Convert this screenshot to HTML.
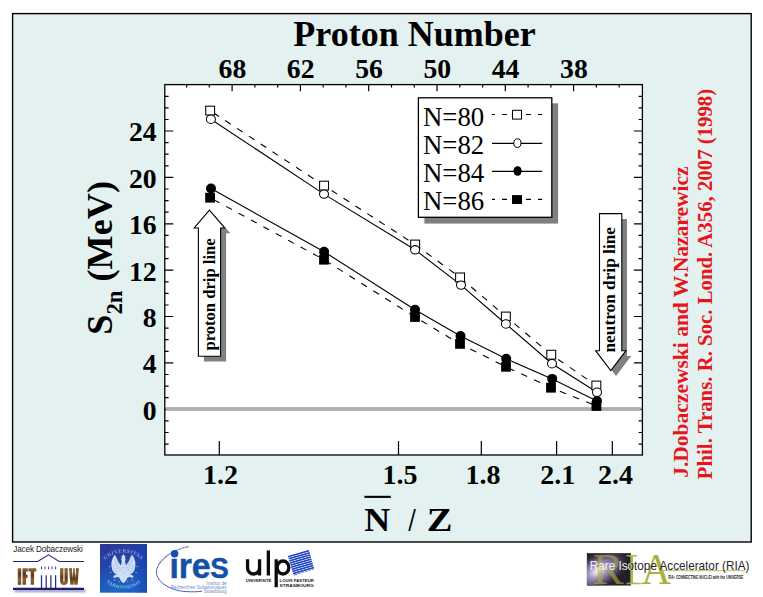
<!DOCTYPE html>
<html><head><meta charset="utf-8"><title>S2n slide</title>
<style>
html,body{margin:0;padding:0;background:#fff;}
body{width:763px;height:597px;overflow:hidden;font-family:"Liberation Sans",sans-serif;}
svg{display:block;position:absolute;left:0;top:0;}
text{font-family:"Liberation Serif",serif;}
.sans{font-family:"Liberation Sans",sans-serif;}
</style></head><body>
<svg width="763" height="597" viewBox="0 0 763 597">
<rect x="12.6" y="13.6" width="738.6" height="528.4" fill="#e3f1f0" stroke="#000" stroke-width="1.4"/>
<rect x="164.8" y="84.6" width="477.59999999999997" height="370.4" fill="#fff" stroke="none"/>
<path d="M164.8 444.1h3.8 M642.4 444.1h-3.8 M164.8 432.5h3.8 M642.4 432.5h-3.8 M164.8 420.9h3.8 M642.4 420.9h-3.8 M164.8 409.3h8.5 M642.4 409.3h-8.5 M164.8 397.7h3.8 M642.4 397.7h-3.8 M164.8 386.1h3.8 M642.4 386.1h-3.8 M164.8 374.5h3.8 M642.4 374.5h-3.8 M164.8 362.9h8.5 M642.4 362.9h-8.5 M164.8 351.3h3.8 M642.4 351.3h-3.8 M164.8 339.7h3.8 M642.4 339.7h-3.8 M164.8 328.1h3.8 M642.4 328.1h-3.8 M164.8 316.5h8.5 M642.4 316.5h-8.5 M164.8 305.0h3.8 M642.4 305.0h-3.8 M164.8 293.4h3.8 M642.4 293.4h-3.8 M164.8 281.8h3.8 M642.4 281.8h-3.8 M164.8 270.2h8.5 M642.4 270.2h-8.5 M164.8 258.6h3.8 M642.4 258.6h-3.8 M164.8 247.0h3.8 M642.4 247.0h-3.8 M164.8 235.4h3.8 M642.4 235.4h-3.8 M164.8 223.8h8.5 M642.4 223.8h-8.5 M164.8 212.2h3.8 M642.4 212.2h-3.8 M164.8 200.6h3.8 M642.4 200.6h-3.8 M164.8 189.0h3.8 M642.4 189.0h-3.8 M164.8 177.4h8.5 M642.4 177.4h-8.5 M164.8 165.8h3.8 M642.4 165.8h-3.8 M164.8 154.2h3.8 M642.4 154.2h-3.8 M164.8 142.6h3.8 M642.4 142.6h-3.8 M164.8 131.0h8.5 M642.4 131.0h-8.5 M164.8 119.5h3.8 M642.4 119.5h-3.8 M164.8 107.9h3.8 M642.4 107.9h-3.8 M164.8 96.3h3.8 M642.4 96.3h-3.8 M186.6 84.6v2.8 M209.3 84.6v2.8 M232.1 84.6v6.6 M254.9 84.6v2.8 M277.6 84.6v2.8 M300.4 84.6v6.6 M323.2 84.6v2.8 M345.9 84.6v2.8 M368.7 84.6v6.6 M391.5 84.6v2.8 M414.3 84.6v2.8 M437.0 84.6v6.6 M459.8 84.6v2.8 M482.6 84.6v2.8 M505.3 84.6v6.6 M528.1 84.6v2.8 M550.9 84.6v2.8 M573.6 84.6v6.6 M596.4 84.6v2.8 M619.2 84.6v2.8 M219.3 455.0v-14 M398.5 455.0v-14 M481.3 455.0v-14 M556.6 455.0v-14 M612.3 455.0v-14" stroke="#000" stroke-width="1.2" fill="none"/>
<rect x="164.8" y="84.6" width="477.59999999999997" height="370.4" fill="none" stroke="#000" stroke-width="1.3"/>
<rect x="166.0" y="407.1" width="474.9" height="3.8" fill="#adadad"/>
<path d="M210.1 110.6 L324.0 185.6 L415.1 244.5 L460 277.4 L505.9 316.5 L551.2 354.7 L596.4 385.5" stroke="#000" stroke-width="1.1" fill="none" stroke-dasharray="6.6 7.55" stroke-dashoffset="-4"/>
<path d="M210.1 197.7 L324 259.7 L415 317 L460 343.9 L506 366.8 L551 387.7 L596.4 406" stroke="#000" stroke-width="1.1" fill="none" stroke-dasharray="6.6 7.55" stroke-dashoffset="-4"/>
<path d="M210.9 119.2 L324 194.1 L415.1 249.8 L461 285.1 L505.9 324 L552 363.7 L597 392.3" stroke="#000" stroke-width="1.1" fill="none"/>
<path d="M211 188.5 L324.1 251.7 L415 309.8 L460.5 336 L506.2 358.8 L552.2 378.9 L597 401" stroke="#000" stroke-width="1.1" fill="none"/>
<rect x="205.2" y="192.8" width="9.8" height="9.8" fill="#000"/>
<rect x="319.1" y="254.8" width="9.8" height="9.8" fill="#000"/>
<rect x="410.1" y="312.1" width="9.8" height="9.8" fill="#000"/>
<rect x="455.1" y="339.0" width="9.8" height="9.8" fill="#000"/>
<rect x="501.1" y="361.9" width="9.8" height="9.8" fill="#000"/>
<rect x="546.1" y="382.8" width="9.8" height="9.8" fill="#000"/>
<rect x="591.5" y="401.1" width="9.8" height="9.8" fill="#000"/>
<circle cx="211" cy="188.5" r="5" fill="#000"/>
<circle cx="324.1" cy="251.7" r="5" fill="#000"/>
<circle cx="415" cy="309.8" r="5" fill="#000"/>
<circle cx="460.5" cy="336" r="5" fill="#000"/>
<circle cx="506.2" cy="358.8" r="5" fill="#000"/>
<circle cx="552.2" cy="378.9" r="5" fill="#000"/>
<circle cx="597" cy="401" r="5" fill="#000"/>
<rect x="205.7" y="106.2" width="8.9" height="8.8" fill="#fff" stroke="#000" stroke-width="1.05"/>
<rect x="319.6" y="181.2" width="8.9" height="8.8" fill="#fff" stroke="#000" stroke-width="1.05"/>
<rect x="410.7" y="240.1" width="8.9" height="8.8" fill="#fff" stroke="#000" stroke-width="1.05"/>
<rect x="455.6" y="273.0" width="8.9" height="8.8" fill="#fff" stroke="#000" stroke-width="1.05"/>
<rect x="501.4" y="312.1" width="8.9" height="8.8" fill="#fff" stroke="#000" stroke-width="1.05"/>
<rect x="546.8" y="350.3" width="8.9" height="8.8" fill="#fff" stroke="#000" stroke-width="1.05"/>
<rect x="591.9" y="381.1" width="8.9" height="8.8" fill="#fff" stroke="#000" stroke-width="1.05"/>
<ellipse cx="210.9" cy="119.2" rx="4.5" ry="4.2" fill="#fff" stroke="#000" stroke-width="1.05"/>
<ellipse cx="324" cy="194.1" rx="4.5" ry="4.2" fill="#fff" stroke="#000" stroke-width="1.05"/>
<ellipse cx="415.1" cy="249.8" rx="4.5" ry="4.2" fill="#fff" stroke="#000" stroke-width="1.05"/>
<ellipse cx="461" cy="285.1" rx="4.5" ry="4.2" fill="#fff" stroke="#000" stroke-width="1.05"/>
<ellipse cx="505.9" cy="324" rx="4.5" ry="4.2" fill="#fff" stroke="#000" stroke-width="1.05"/>
<ellipse cx="552" cy="363.7" rx="4.5" ry="4.2" fill="#fff" stroke="#000" stroke-width="1.05"/>
<ellipse cx="597" cy="392.3" rx="4.5" ry="4.2" fill="#fff" stroke="#000" stroke-width="1.05"/>
<path d="M214.9 215.39999999999998 L230.2 233.2 H226.1 V361.5 H203.9 V233.2 H199.7 Z" fill="#808080"/>
<path d="M209.4 210.2 L224.7 228 H220.6 V356.3 H198.4 V228 H194.2 Z" fill="#fff" stroke="#000" stroke-width="1.1" stroke-linejoin="miter"/>
<path d="M604.7 218.9 H627.0 V356.0 H631.2 L616.0 375.90000000000003 L600.8000000000001 356.0 H604.7 Z" fill="#808080"/>
<path d="M599.5 213.6 H621.8 V350.7 H626 L610.8 370.6 L595.6 350.7 H599.5 Z" fill="#fff" stroke="#000" stroke-width="1.1" stroke-linejoin="miter"/>
<text transform="translate(214.6,350.6) rotate(-90)" font-family="Liberation Serif" font-weight="bold" font-size="16.6">proton drip line</text>
<text transform="translate(614.8,352.5) rotate(-90)" font-family="Liberation Serif" font-weight="bold" font-size="17.3">neutron drip line</text>
<rect x="424.4" y="103.3" width="133.7" height="120.3" fill="#808080"/>
<rect x="418.4" y="97.8" width="133.4" height="119.5" fill="#fff" stroke="#000" stroke-width="1.3"/>
<text x="423.0" y="126.3" font-family="Liberation Serif" font-size="26.8">N=80</text>
<path d="M492 114.5H542.2" stroke="#000" stroke-width="1.1" stroke-dasharray="5 7" stroke-dashoffset="2"/>
<text x="423.0" y="153.7" font-family="Liberation Serif" font-size="26.8">N=82</text>
<path d="M492 143.4H542.2" stroke="#000" stroke-width="1.1"/>
<text x="423.0" y="181.9" font-family="Liberation Serif" font-size="26.8">N=84</text>
<path d="M492 171.4H542.2" stroke="#000" stroke-width="1.1"/>
<text x="423.0" y="209.5" font-family="Liberation Serif" font-size="26.8">N=86</text>
<path d="M492 199.4H542.2" stroke="#000" stroke-width="1.1" stroke-dasharray="5 7" stroke-dashoffset="2"/>
<rect x="512.5" y="110.3" width="9" height="8.8" fill="#fff" stroke="#000" stroke-width="1"/>
<ellipse cx="517.4" cy="143.1" rx="3.6" ry="4.3" fill="#fff" stroke="#000" stroke-width="1"/>
<ellipse cx="517.6" cy="171" rx="4.1" ry="4.8" fill="#000"/>
<rect x="512" y="195.1" width="10" height="8.9" fill="#000"/>
<text x="414.5" y="46.4" text-anchor="middle" font-family="Liberation Serif" font-weight="bold" font-size="36">Proton Number</text>
<text x="232.4" y="78.2" text-anchor="middle" font-family="Liberation Serif" font-weight="bold" font-size="27.7">68</text>
<text x="300.7" y="78.2" text-anchor="middle" font-family="Liberation Serif" font-weight="bold" font-size="27.7">62</text>
<text x="369.0" y="78.2" text-anchor="middle" font-family="Liberation Serif" font-weight="bold" font-size="27.7">56</text>
<text x="437.3" y="78.2" text-anchor="middle" font-family="Liberation Serif" font-weight="bold" font-size="27.7">50</text>
<text x="505.6" y="78.2" text-anchor="middle" font-family="Liberation Serif" font-weight="bold" font-size="27.7">44</text>
<text x="573.9" y="78.2" text-anchor="middle" font-family="Liberation Serif" font-weight="bold" font-size="27.7">38</text>
<text x="156.6" y="141.3" text-anchor="end" font-family="Liberation Serif" font-weight="bold" font-size="27.7">24</text>
<text x="156.6" y="187.7" text-anchor="end" font-family="Liberation Serif" font-weight="bold" font-size="27.7">20</text>
<text x="156.6" y="234.1" text-anchor="end" font-family="Liberation Serif" font-weight="bold" font-size="27.7">16</text>
<text x="156.6" y="280.5" text-anchor="end" font-family="Liberation Serif" font-weight="bold" font-size="27.7">12</text>
<text x="156.6" y="326.8" text-anchor="end" font-family="Liberation Serif" font-weight="bold" font-size="27.7">8</text>
<text x="156.6" y="373.2" text-anchor="end" font-family="Liberation Serif" font-weight="bold" font-size="27.7">4</text>
<text x="156.6" y="420.2" text-anchor="end" font-family="Liberation Serif" font-weight="bold" font-size="27.7">0</text>
<text x="220.5" y="483.6" text-anchor="middle" font-family="Liberation Serif" font-weight="bold" font-size="28">1.2</text>
<text x="400" y="483.6" text-anchor="middle" font-family="Liberation Serif" font-weight="bold" font-size="28">1.5</text>
<text x="483" y="483.6" text-anchor="middle" font-family="Liberation Serif" font-weight="bold" font-size="28">1.8</text>
<text x="557.7" y="483.6" text-anchor="middle" font-family="Liberation Serif" font-weight="bold" font-size="28">2.1</text>
<text x="615.6" y="483.6" text-anchor="middle" font-family="Liberation Serif" font-weight="bold" font-size="28">2.4</text>
<text transform="translate(364.2,531.2) scale(1.045,1)" font-family="Liberation Serif" font-weight="bold" font-size="34.4">N</text>
<text transform="translate(412,531.2) scale(0.74,1)" text-anchor="middle" font-family="Liberation Serif" font-weight="bold" font-size="34.4">/</text>
<text transform="translate(426.8,531.2) scale(1.12,1)" font-family="Liberation Serif" font-weight="bold" font-size="34.4">Z</text>
<rect x="364.4" y="495.8" width="26.4" height="2.1" fill="#000"/>
<text transform="translate(112.3,334.7) rotate(-90)" font-family="Liberation Serif" font-weight="bold" font-size="36.2" xml:space="preserve">S<tspan font-size="22.8" dy="10">2n</tspan><tspan dy="-10"> (MeV)</tspan></text>
<text transform="translate(688.3,477.8) rotate(-90)" font-family="Liberation Serif" font-weight="bold" font-size="21.5" fill="#e8141a">J.Dobaczewski and W.Nazarewicz</text>
<text transform="translate(712.2,479.2) rotate(-90)" font-family="Liberation Serif" font-weight="bold" font-size="20.8" fill="#e8141a">Phil. Trans. R. Soc. Lond. A356, 2007 (1998)</text>
<defs>
<linearGradient id="wood" x1="0" y1="0" x2="1" y2="0.08" gradientUnits="userSpaceOnUse" spreadMethod="repeat">
<stop offset="0" stop-color="#5e3a1c"/><stop offset="0.5" stop-color="#8e6436"/><stop offset="1" stop-color="#5e3a1c"/>
</linearGradient>
<linearGradient id="uwbg" x1="0" y1="0" x2="0.25" y2="1">
<stop offset="0" stop-color="#2f3496"/><stop offset="0.45" stop-color="#2545aa"/><stop offset="1" stop-color="#1b66c2"/>
</linearGradient>
<linearGradient id="uwbg2" x1="0" y1="0" x2="1" y2="0"><stop offset="0" stop-color="#2040c0" stop-opacity="0"/><stop offset="0.6" stop-color="#2040c0" stop-opacity="0"/><stop offset="1" stop-color="#1838a8" stop-opacity="0.55"/></linearGradient>
<radialGradient id="riaglow" gradientUnits="userSpaceOnUse" cx="598" cy="571" r="34" gradientTransform="rotate(-28 598 571) translate(598 571) scale(1 0.55) translate(-598 -571)">
<stop offset="0" stop-color="#f6f2fa"/><stop offset="0.12" stop-color="#e0d6ea"/><stop offset="0.3" stop-color="#a898c2"/><stop offset="0.62" stop-color="#625478"/><stop offset="1" stop-color="#222026" stop-opacity="0.2"/>
</radialGradient>
<pattern id="stripes" width="20" height="2.2" patternUnits="userSpaceOnUse">
<rect width="20" height="2.2" fill="#dfe6fa"/><rect width="20" height="1.5" fill="#2246c2"/>
</pattern>
<path id="arcTop" d="M102.4 563.6 A25.5 25.5 0 0 1 144.4 563.6"/>
<path id="arcBot" d="M102.4 578.4 A26.6 26.6 0 0 0 144.4 578.4"/>
<filter id="soft03" x="-10%" y="-10%" width="120%" height="120%"><feGaussianBlur stdDeviation="0.3"/></filter>
<filter id="soft" x="-20%" y="-20%" width="140%" height="140%"><feGaussianBlur stdDeviation="0.45"/></filter>
<filter id="soft2" filterUnits="userSpaceOnUse" x="8" y="584" width="84" height="13"><feGaussianBlur stdDeviation="0.8"/></filter>
</defs>

<!-- Jacek Dobaczewski -->
<text class="sans" x="13.2" y="551.8" font-family="Liberation Sans" font-size="8.2" fill="#1a1a1a" textLength="69.6" lengthAdjust="spacing" style="font-family:'Liberation Sans',sans-serif">Jacek Dobaczewski</text>

<!-- IFT UW -->
<g>
<rect x="14.5" y="589.6" width="71" height="2.4" fill="#8c8cb4" filter="url(#soft2)"/>
<path d="M13 561.5H37.7L48.5 554.9L59.2 561.5H84" fill="none" stroke="#23237a" stroke-width="1.05"/>
<path d="M41.5 575.2V588M46.2 575.2V588M50.9 575.2V588M55.6 575.2V588" stroke="#2a2a8c" stroke-width="1.25"/>
<path d="M41.5 566.5v2.8M45 566.5v2.8M48.6 566.5v2.8M52.1 566.5v2.8M55.6 566.5v2.8" stroke="#2a2a8c" stroke-width="0.9"/>
<path d="M13 588.9H84" stroke="#1c1c78" stroke-width="2.2"/>
<g fill="url(#wood)" filter="url(#soft03)">
<rect x="17.8" y="568.3" width="3.4" height="16.5"/>
<path d="M22.5 568.3H27.9V571.6H26V574.8H27.5V577.9H26V584.8H22.5Z"/>
<path d="M28.4 568.3H36.3V571.6H34.1V584.8H30.7V571.6H28.4Z"/>
<path d="M60.1 568.3H63.4V581.2Q63.95 582.2 64.5 581.2V568.3H67.8V582Q67.4 584.9 63.95 584.9Q60.5 584.9 60.1 582Z"/>
<path d="M69 568.3H71.9L72.6 578.6L73.3 568.3H74.7L75.4 578.6L76.1 568.3H78.9L77.6 584.8H74.3L74 579.5L73.7 584.8H70.3Z"/>
</g>
</g>

<!-- UW emblem -->
<g>
<rect x="100" y="544" width="47" height="48.7" fill="url(#uwbg)"/>
<rect x="100" y="544" width="47" height="48.7" fill="url(#uwbg2)"/>
<g filter="url(#soft)">
<text style="font-family:'Liberation Serif',serif" font-weight="bold" font-size="5.4" fill="#8c9ce0" letter-spacing="0.3"><textPath href="#arcTop" startOffset="50%" text-anchor="middle">UNIVERSITAS</textPath></text>
<text style="font-family:'Liberation Serif',serif" font-weight="bold" font-size="4.8" fill="#86bcf0" letter-spacing="0.15"><textPath href="#arcBot" startOffset="50%" text-anchor="middle">VARSOVIENSIS</textPath></text>
<g fill="#d0def4">
<path d="M123.4 553.6 L124 555.4 L125.4 556 L125 557.8 L125.6 559.6 L125 561.2 L126 565.4 Q128.4 562.6 129.8 559 Q130.8 556.4 132 554.8 Q134.6 557.8 135.3 562 Q136 566.8 134.4 570.2 Q133 573 130.2 574.6 L133.6 576 L132.8 578 L129.8 577 L127.6 577.6 Q126.8 580.8 123.4 583.2 Q120 580.8 119.2 577.6 L117 577 L114 578 L113.2 576 L116.6 574.6 Q113.8 573 112.4 570.2 Q110.8 566.8 111.5 562 Q112.2 557.8 114.8 554.8 Q116 556.4 117 559 Q118.4 562.6 120.8 565.4 L121.8 561.2 L121.2 559.6 L121.8 557.8 L121.4 556 L122.8 555.4 Z"/>
</g>
<g stroke="#8fb0e4" stroke-width="0.55" fill="none" opacity="0.9">
<path d="M114.8 559 Q115.6 566 119.4 571.6 M117 560.6 Q118 566 121 570.4 M113 564.6 Q114.6 570 118 573.6"/>
<path d="M132 559 Q131.2 566 127.4 571.6 M129.8 560.6 Q128.8 566 125.8 570.4 M133.8 564.6 Q132.2 570 128.8 573.6"/>
<path d="M121.8 563.6 Q123.4 565.2 125 563.6 M121.4 567.6 H125.4 M122 572.6 Q123.4 574 124.8 572.6"/>
</g>
<g fill="#9cc4f0">
<circle cx="109.6" cy="566.6" r="0.7"/><circle cx="137.2" cy="566.6" r="0.7"/><circle cx="110.6" cy="572.6" r="0.7"/><circle cx="136.2" cy="572.6" r="0.7"/>
<circle cx="114.6" cy="580" r="0.7"/><circle cx="132.2" cy="580" r="0.7"/><circle cx="119" cy="581.6" r="0.6"/><circle cx="127.8" cy="581.6" r="0.6"/>
</g>
</g>
</g>

<!-- IReS -->
<g>
<path d="M189 546.6 C176 548.5 160 558 156.6 569.5 C154.5 580 168 590.5 186 591.6 C193 592 198 591.8 202 591.2" fill="none" stroke="#3050b0" stroke-width="0.9"/>
<path d="M189 546.6 C176 548.5 163 556 158.5 564" fill="none" stroke="#b8a8d8" stroke-width="1"/>
<g transform="translate(169.6,577.5) scale(0.94,1)">
<text style="font-family:'Liberation Sans',sans-serif" font-weight="bold" font-size="36" fill="#1450a8" stroke="#1450a8" stroke-width="0.5" letter-spacing="-0.2">ire<tspan font-size="29.5" dx="-0.2">S</tspan></text>
</g>
<circle cx="174.6" cy="553.7" r="3.7" fill="#1450a8"/>
<text style="font-family:'Liberation Sans',sans-serif" font-size="4.7" fill="#6f8cc8" text-anchor="end" x="226.7" y="584.6">Institut de</text>
<text style="font-family:'Liberation Sans',sans-serif" font-size="4.7" fill="#6f8cc8" text-anchor="end" x="226.7" y="588.7">Recherches Subatomiques</text>
<text style="font-family:'Liberation Sans',sans-serif" font-size="4.7" fill="#6f8cc8" text-anchor="end" x="226.7" y="592.7">Strasbourg</text>
</g>

<!-- ULP -->
<g>
<polygon points="288.1,555.9 308.7,550 313.8,568.3 294,575.4" fill="#2448c4"/>
<g transform="translate(288.1,555.9) rotate(-16)"><rect x="0" y="0" width="21.4" height="20" fill="url(#stripes)"/></g>
<g fill="none" stroke="#0c0c0c" stroke-width="3.3">
<path d="M247.55 559.3V568A6 6 0 0 0 259.55 568V559.3M259.55 566V575.5"/>
<path d="M268.35 550.4V575.5"/>
<path d="M276.2 559.3V587.2"/>
<ellipse cx="283" cy="567.5" rx="5.85" ry="6.5"/>
</g>
<text style="font-family:'Liberation Sans',sans-serif" font-weight="bold" font-size="4.2" x="245.8" y="582" fill="#222" textLength="25.6" lengthAdjust="spacingAndGlyphs">UNIVERSITÉ</text>
<text style="font-family:'Liberation Sans',sans-serif" font-weight="bold" font-size="4.2" x="279.6" y="582" fill="#222" textLength="34.2" lengthAdjust="spacingAndGlyphs">LOUIS PASTEUR</text>
<text style="font-family:'Liberation Sans',sans-serif" font-weight="bold" font-size="4.2" x="279.6" y="587.3" fill="#222" textLength="34.2" lengthAdjust="spacingAndGlyphs">STRASBOURG</text>
</g>

<!-- RIA -->
<g>
<clipPath id="inbox"><rect x="586.9" y="553.2" width="43.9" height="32.3"/></clipPath>
<clipPath id="outbox"><rect x="630.8" y="540" width="132" height="57"/></clipPath>
<rect x="586.9" y="553.2" width="43.9" height="32.3" fill="#222026"/>
<rect x="586.9" y="553.2" width="43.9" height="32.3" fill="url(#riaglow)"/>
<g fill="#a9b03e" style="font-family:'Liberation Serif',serif" font-size="44.5">
<text x="592.4" y="584.2" textLength="31.2" lengthAdjust="spacingAndGlyphs" fill-opacity="0.62">R</text>
<path d="M626.4 555H637V556.2L633 556.9V582.4L641.6 583V584.2H626.4V583L630.4 582.4V556.9L626.4 556.2Z" fill-opacity="0.9"/>
<text x="641.4" y="584.2" textLength="29.4" lengthAdjust="spacingAndGlyphs">A</text>
</g>
<path d="M660 570.7H745" stroke="#a9b03e" stroke-width="0.8"/>
<text clip-path="url(#outbox)" style="font-family:'Liberation Sans',sans-serif" font-size="12.6" x="589.8" y="569.7" fill="#242424" textLength="159.6" lengthAdjust="spacingAndGlyphs">Rare Isotope Accelerator (RIA)</text>
<text clip-path="url(#inbox)" style="font-family:'Liberation Sans',sans-serif" font-size="12.6" x="589.8" y="569.7" fill="#f2f0f4" textLength="159.6" lengthAdjust="spacingAndGlyphs">Rare Isotope Accelerator (RIA)</text>
<text style="font-family:'Liberation Sans',sans-serif" font-weight="bold" font-size="4.6" x="668.2" y="578.9" fill="#222" textLength="75" lengthAdjust="spacingAndGlyphs">RIA: CONNECTING NUCLEI with the UNIVERSE</text>
</g>

</svg>
</body></html>
